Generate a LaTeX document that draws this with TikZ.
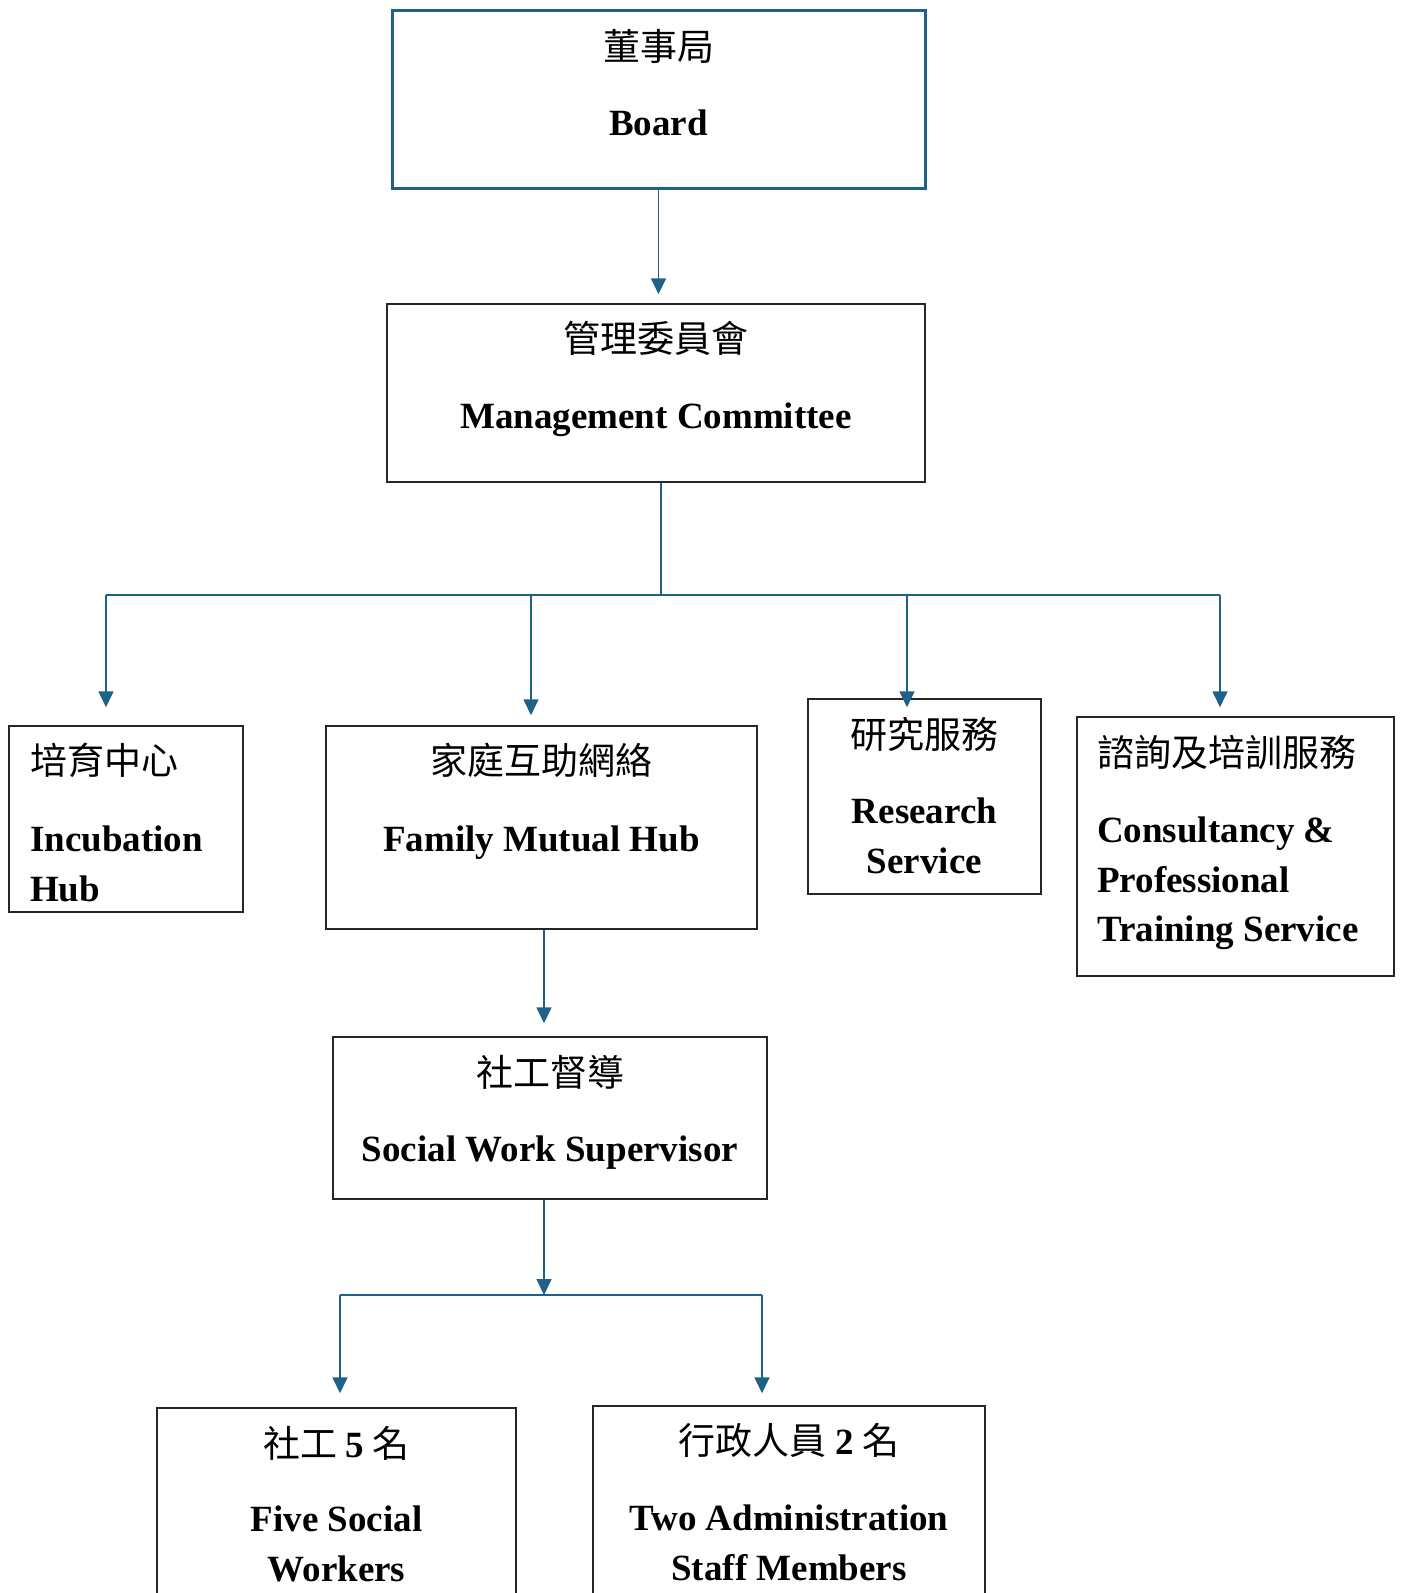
\documentclass[tikz,border=0pt]{standalone}
\usepackage{fontspec}
\setmainfont{Liberation Serif}
\newfontfamily\zhfont{Noto Sans CJK TC}
\usetikzlibrary{arrows.meta}
\definecolor{linkblue}{RGB}{30,98,138}

\tikzset{
  box/.style={draw=black!85, line width=1.5pt, inner sep=0pt},
  zh/.style={font={\zhfont\fontsize{37}{44}\selectfont}, inner sep=0pt, anchor=base},
  en/.style={font={\bfseries\fontsize{37}{49.5}\selectfont}, inner sep=0pt, align=center, anchor=north},
  link/.style={draw=linkblue, line width=1.7pt, -{Triangle[width=15pt,length=16pt]}},
  wire/.style={draw=linkblue, line width=1.7pt},
}

\begin{document}
\begin{tikzpicture}[x=1pt, y=-1pt]
    \useasboundingbox (0,0) rectangle (1402,1593);

    % boxes
    \node[box, draw=linkblue, line width=3pt, minimum width=533pt, minimum height=178pt] (board) at (658.5,99) {};
    \node[box, minimum width=538pt, minimum height=178pt] (mgmt) at (656,393) {};
    \node[box, minimum width=234pt, minimum height=186pt] (incub) at (126,819) {};
    \node[box, minimum width=431pt, minimum height=203pt] (family) at (541.5,827.5) {};
    \node[box, minimum width=233pt, minimum height=195pt] (research) at (924.5,796.5) {};
    \node[box, minimum width=317pt, minimum height=259pt] (consult) at (1235.5,846.5) {};
    \node[box, minimum width=434pt, minimum height=162pt] (supervisor) at (550,1118) {};
    \node[box, minimum width=359pt, minimum height=212pt] (workers) at (336.5,1514) {};
    \node[box, minimum width=392pt, minimum height=214pt] (admin) at (789,1513) {};

    % texts
    \node[zh] (board-zh) at (658.5,60) {董事局};
    \node[en] (board-en) at (658.5,110) {Board};

    \node[zh] (mgmt-zh) at (656,352) {管理委員會};
    \node[en] (mgmt-en) at (656,403) {Management Committee};

    \node[zh, anchor=base west] (incub-zh) at (30,774) {培育中心};
    \node[en, anchor=north west, align=left] (incub-en) at (30,826) {Incubation\\Hub};

    \node[zh] (family-zh) at (541.5,774) {家庭互助網絡};
    \node[en] (family-en) at (541.5,826) {Family Mutual Hub};

    \node[zh] (research-zh) at (924.5,748) {研究服務};
    \node[en] (research-en) at (924.5,798) {Research\\Service};

    \node[zh, anchor=base west] (consult-zh) at (1097,766) {諮詢及培訓服務};
    \node[en, anchor=north west, align=left] (consult-en) at (1097,817) {Consultancy \&\\Professional\\Training Service};

    \node[zh] (supervisor-zh) at (550,1086) {社工督導};
    \node[en] (supervisor-en) at (550,1136) {Social Work Supervisor};

    \node[zh] (workers-zh) at (336.5,1457) {社工 {\rmfamily\bfseries 5} 名};
    \node[en] (workers-en) at (336.5,1506) {Five Social\\Workers};

    \node[zh] (admin-zh) at (789,1454) {行政人員 {\rmfamily\bfseries 2} 名};
    \node[en] (admin-en) at (789,1505) {Two Administration\\Staff Members};

    % connectors
    \draw[link] (board.south) -- ([yshift=9pt]board.south |- mgmt.north);

    \coordinate (split) at (661,595);
    \coordinate (toIncub) at (106,595);
    \coordinate (toFamily) at (531,595);
    \coordinate (toResearch) at (907,595);
    \coordinate (toConsult) at (1220,595);
    \draw[wire] (mgmt.south -| split) -- (split);
    \draw[wire] (toIncub) -- (toConsult);
    \draw[link] (toIncub) -- ([yshift=18pt]toIncub |- incub.north);
    \draw[link] (toFamily) -- ([yshift=10pt]toFamily |- family.north);
    \draw[link] (toResearch) -- ([yshift=-9pt]toResearch |- research.north);
    \draw[link] (toConsult) -- ([yshift=9pt]toConsult |- consult.north);

    \coordinate (famdown) at (544,1000);
    \draw[link] (family.south -| famdown) -- ([yshift=13pt]famdown |- supervisor.north);

    \coordinate (split2) at (544,1295);
    \coordinate (toWorkers) at (340,1295);
    \coordinate (toAdmin) at (762,1295);
    \draw[link] (supervisor.south -| split2) -- (split2);
    \draw[wire] (toWorkers) -- (toAdmin);
    \draw[link] (toWorkers) -- ([yshift=14pt]toWorkers |- workers.north);
    \draw[link] (toAdmin) -- ([yshift=12pt]toAdmin |- admin.north);
\end{tikzpicture}
\end{document}
